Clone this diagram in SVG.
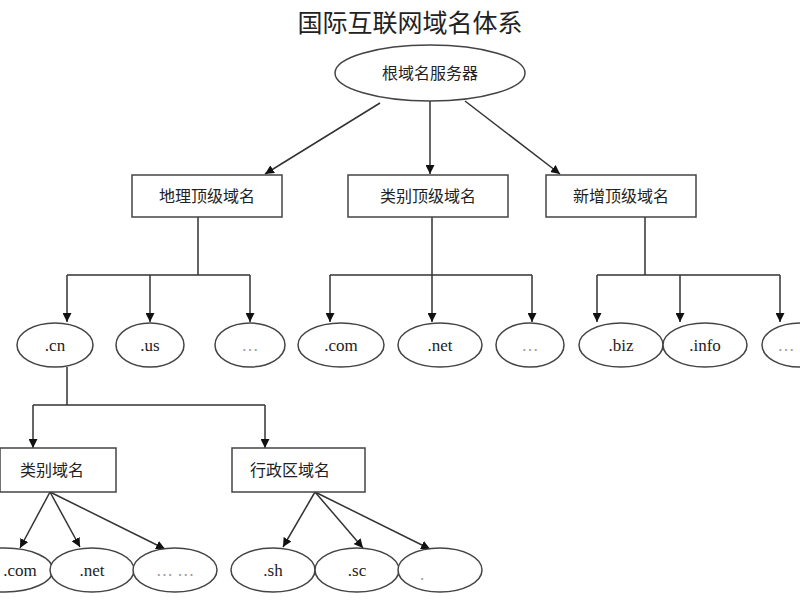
<svg xmlns="http://www.w3.org/2000/svg" width="800" height="600" viewBox="0 0 800 600">
<style>
text{font-family:"Liberation Serif","Noto Sans CJK SC",serif;font-size:17px;text-anchor:middle;fill:#222}
.cjk{font-family:"Noto Sans CJK SC",sans-serif;font-size:16px}
.n{fill:#fff;stroke:#444;stroke-width:1.5}
.c path{fill:none;stroke:#333;stroke-width:1.5}
.g{fill:#999}
</style>
<defs><marker id="a" viewBox="0 0 10 10" refX="10" refY="5" markerWidth="9" markerHeight="9" markerUnits="userSpaceOnUse" orient="auto"><path d="M0,0L10,5L0,10z" fill="#111" stroke="none"/></marker></defs>
<text x="410" y="32" class="cjk" style="font-size:25px">国际互联网域名体系</text>
<g id="connectors" class="c">
<path d="M380,103L265,174" marker-end="url(#a)"/>
<path d="M430,101V174" marker-end="url(#a)"/>
<path d="M465,101L560,174" marker-end="url(#a)"/>
<path d="M198,217V275M67,275H250"/>
<path d="M67,275V322" marker-end="url(#a)"/>
<path d="M150,275V322" marker-end="url(#a)"/>
<path d="M250,275V322" marker-end="url(#a)"/>
<path d="M432,217V275M330,275H532"/>
<path d="M330,275V322" marker-end="url(#a)"/>
<path d="M432,275V322" marker-end="url(#a)"/>
<path d="M532,275V322" marker-end="url(#a)"/>
<path d="M645,217V275M597,275H780"/>
<path d="M597,275V322" marker-end="url(#a)"/>
<path d="M680,275V322" marker-end="url(#a)"/>
<path d="M780,275V322" marker-end="url(#a)"/>
<path d="M67,367V405M33,405H265"/>
<path d="M33,405V448" marker-end="url(#a)"/>
<path d="M265,405V448" marker-end="url(#a)"/>
<path d="M50,492L20,548" marker-end="url(#a)"/>
<path d="M50,492L80,547" marker-end="url(#a)"/>
<path d="M50,492L165,549" marker-end="url(#a)"/>
<path d="M315,492L283,547" marker-end="url(#a)"/>
<path d="M315,492L363,548" marker-end="url(#a)"/>
<path d="M315,492L430,549" marker-end="url(#a)"/>
</g>
<g id="root"><ellipse class="n" cx="430" cy="73" rx="95" ry="28"/><text class="cjk" x="430" y="79">根域名服务器</text></g>
<g id="geo"><rect class="n" x="132" y="175" width="150" height="42"/><text class="cjk" x="207" y="202">地理顶级域名</text></g>
<g id="cat"><rect class="n" x="348" y="175" width="160" height="42"/><text class="cjk" x="428" y="202">类别顶级域名</text></g>
<g id="new"><rect class="n" x="546" y="175" width="150" height="42"/><text class="cjk" x="621" y="202">新增顶级域名</text></g>
<g id="cn"><ellipse class="n" cx="55" cy="345" rx="38" ry="22"/><text x="55" y="351">.cn</text></g>
<g id="us"><ellipse class="n" cx="150" cy="345" rx="34" ry="22"/><text x="150" y="351">.us</text></g>
<g id="geo-more"><ellipse class="n" cx="250" cy="345" rx="35" ry="22"/><text class="g" x="250" y="351">…</text></g>
<g id="com"><ellipse class="n" cx="341" cy="345" rx="43" ry="22"/><text x="341" y="351">.com</text></g>
<g id="net"><ellipse class="n" cx="440" cy="345" rx="42" ry="22"/><text x="440" y="351">.net</text></g>
<g id="cat-more"><ellipse class="n" cx="530" cy="345" rx="34" ry="22"/><text class="g" x="530" y="351">…</text></g>
<g id="biz"><ellipse class="n" cx="621" cy="345" rx="42" ry="22"/><text x="621" y="351">.biz</text></g>
<g id="info"><ellipse class="n" cx="705" cy="345" rx="42" ry="22"/><text x="705" y="351">.info</text></g>
<g id="new-more"><ellipse class="n" cx="800" cy="345" rx="38" ry="22"/><text class="g" x="786" y="351">…</text></g>
<g id="leibie"><rect class="n" x="0" y="448" width="116" height="44"/><text class="cjk" x="52" y="476">类别域名</text></g>
<g id="xingzheng"><rect class="n" x="232" y="448" width="133" height="44"/><text class="cjk" x="290" y="476">行政区域名</text></g>
<g id="com2"><ellipse class="n" cx="5" cy="570" rx="48" ry="22"/><text x="20" y="576">.com</text></g>
<g id="net2"><ellipse class="n" cx="92" cy="570" rx="42" ry="22"/><text x="92" y="576">.net</text></g>
<g id="more2"><ellipse class="n" cx="175" cy="570" rx="42" ry="22"/><text class="g" x="175" y="576">… …</text></g>
<g id="sh"><ellipse class="n" cx="273" cy="570" rx="42" ry="22"/><text x="273" y="576">.sh</text></g>
<g id="sc"><ellipse class="n" cx="357" cy="570" rx="42" ry="22"/><text x="357" y="576">.sc</text></g>
<g id="dot"><ellipse class="n" cx="440" cy="570" rx="42" ry="22"/><text class="g" x="422" y="580">.</text></g>
</svg>
